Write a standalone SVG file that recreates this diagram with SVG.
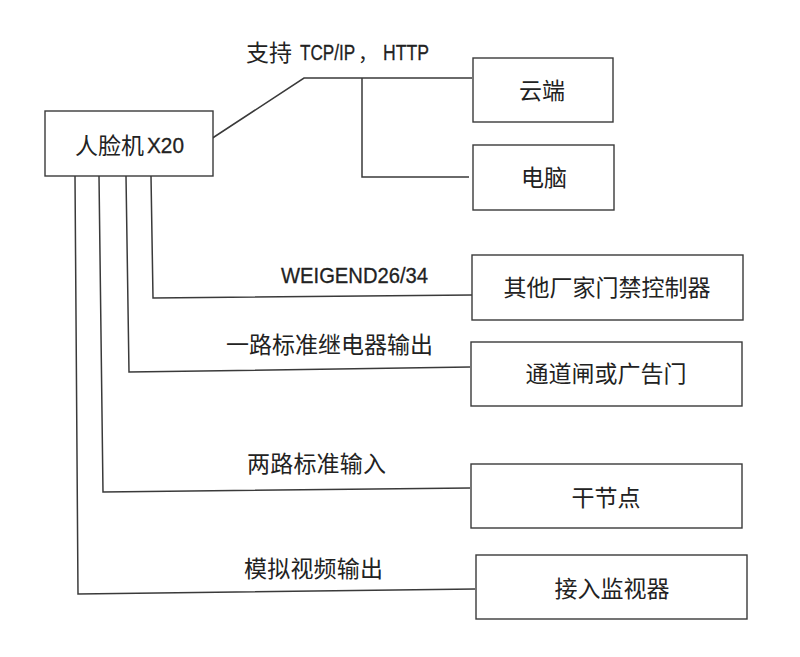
<svg xmlns="http://www.w3.org/2000/svg" width="800" height="657" viewBox="0 0 800 657">
<style>
.box{fill:#ffffff;stroke:#3a3a3a;stroke-width:1.4}
.ln{fill:none;stroke:#3a3a3a;stroke-width:1.5}
.t{font-family:"Noto Sans CJK SC","Liberation Sans",sans-serif;font-size:23px;fill:#222222}
.c{text-anchor:middle}
.lat{font-family:"Liberation Sans","Noto Sans CJK SC",sans-serif;font-size:22px;stroke:#222222;stroke-width:0.3}
</style>
<rect width="800" height="657" fill="#ffffff"/>
<g id="connectors">
<polyline class="ln" points="211,139 304,78 472,78"/>
<polyline class="ln" points="362,78 362,177 469,177"/>
<polyline class="ln" points="151,176 153,298 472,295"/>
<polyline class="ln" points="126,176 129,372 470,367"/>
<polyline class="ln" points="99,176 103,492 470,488"/>
<polyline class="ln" points="75,176 78,594 475,589"/>
</g>
<g id="labels">
<text class="t" x="246" y="61">支持</text>
<text class="t lat" transform="translate(300,60) scale(0.78,1)">TCP/IP</text>
<text class="t" x="358" y="61" style="font-size:20px">，</text>
<text class="t lat" transform="translate(383,60) scale(0.8,1)">HTTP</text>
<text class="t lat" x="281" y="283" textLength="147" lengthAdjust="spacingAndGlyphs">WEIGEND26/34</text>
<text class="t" x="226" y="353" textLength="207">一路标准继电器输出</text>
<text class="t" x="247" y="472" textLength="139">两路标准输入</text>
<text class="t" x="244" y="577" textLength="139">模拟视频输出</text>
</g>
<g id="node-x20">
<rect class="box" x="45" y="111" width="168" height="65"/>
<text class="t" x="75" y="154">人脸机</text>
<text class="t lat" x="147" y="153" textLength="37" lengthAdjust="spacingAndGlyphs">X20</text>
</g>
<g id="node-cloud">
<rect class="box" x="473" y="58" width="140" height="64"/>
<text class="t c" x="542" y="99">云端</text>
</g>
<g id="node-pc">
<rect class="box" x="473" y="145" width="141" height="65"/>
<text class="t c" x="544" y="186">电脑</text>
</g>
<g id="node-controller">
<rect class="box" x="472" y="255" width="271" height="65"/>
<text class="t c" x="607" y="296">其他厂家门禁控制器</text>
</g>
<g id="node-gate">
<rect class="box" x="471" y="342" width="271" height="64"/>
<text class="t c" x="606" y="382">通道闸或广告门</text>
</g>
<g id="node-dry">
<rect class="box" x="471" y="464" width="271" height="64"/>
<text class="t c" x="606" y="506">干节点</text>
</g>
<g id="node-monitor">
<rect class="box" x="476" y="555" width="271" height="64"/>
<text class="t c" x="612" y="597">接入监视器</text>
</g>
</svg>
